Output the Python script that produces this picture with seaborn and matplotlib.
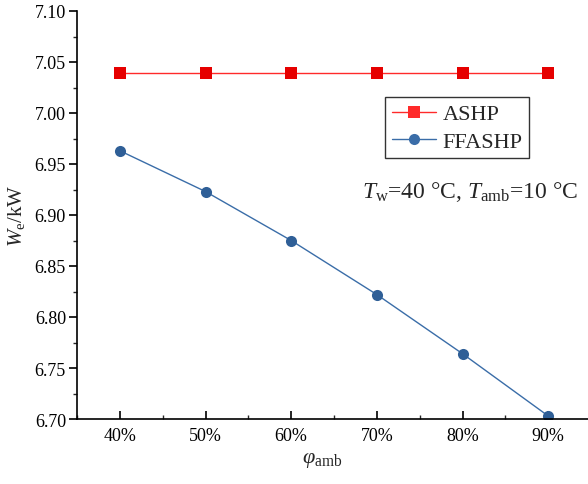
import matplotlib
matplotlib.use("Agg")
import matplotlib.pyplot as plt
import seaborn as sns
import pandas as pd
from matplotlib.ticker import MultipleLocator, FuncFormatter, AutoMinorLocator

phi = [0.4, 0.5, 0.6, 0.7, 0.8, 0.9]
ashp = [7.039, 7.039, 7.039, 7.039, 7.039, 7.039]
ffashp = [6.963, 6.923, 6.875, 6.822, 6.764, 6.703]
series_names = ["ASHP", "FFASHP"]

sns.set_theme(style="white")
plt.rcParams["font.family"] = ["Liberation Serif", "DejaVu Serif"]
plt.rcParams["mathtext.fontset"] = "custom"
plt.rcParams["mathtext.rm"] = "Liberation Serif"
plt.rcParams["mathtext.it"] = "Liberation Serif:italic"

df = pd.DataFrame({
    "phi": phi * 2,
    "We": ashp + ffashp,
    "series": [series_names[0]] * len(phi) + [series_names[1]] * len(phi),
})

fig = plt.figure(figsize=(5.88, 4.85), dpi=100)
ax = fig.add_axes([77 / 588, (485 - 420) / 485, 514 / 588, 408 / 485])

palette = {"ASHP": "#FF2A2A", "FFASHP": "#3A6DA8"}
sns.lineplot(data=df, x="phi", y="We", hue="series", style="series",
             markers={"ASHP": "s", "FFASHP": "o"}, dashes=False,
             palette=palette, linewidth=1.0, markersize=8, ax=ax,
             markeredgewidth=0)
for line, mc in zip(ax.get_lines()[:2], ["#E60000", "#2F5F97"]):
    line.set_markerfacecolor(mc)
    line.set_markeredgecolor(mc)

ax.set_xlim(0.35, 0.95)
ax.set_ylim(6.70, 7.10)
ax.xaxis.set_major_locator(MultipleLocator(0.1))
ax.xaxis.set_minor_locator(AutoMinorLocator(2))
ax.xaxis.set_major_formatter(FuncFormatter(lambda v, p: f"{v*100:.0f}%"))
ax.yaxis.set_major_locator(MultipleLocator(0.05))
ax.yaxis.set_minor_locator(AutoMinorLocator(2))
ax.yaxis.set_major_formatter(FuncFormatter(lambda v, p: f"{v:.2f}"))

for s in ["top", "right"]:
    ax.spines[s].set_visible(False)
for s in ["left", "bottom"]:
    ax.spines[s].set_color("black")
    ax.spines[s].set_linewidth(1.2)

ax.tick_params(axis="x", which="major", direction="in", length=6, width=1.2,
               labelsize=13, pad=6, bottom=True, colors="black")
ax.tick_params(axis="x", which="minor", direction="in", length=3, width=1.0, bottom=True)
ax.tick_params(axis="y", which="major", direction="out", length=6, width=1.2,
               labelsize=13, pad=2, left=True, colors="black")
ax.tick_params(axis="y", which="minor", direction="out", length=3, width=1.0, left=True)

ax.set_xlabel(r"$\varphi_{\mathrm{amb}}$", fontsize=16)
ax.xaxis.set_label_coords(0.477, -0.077)
ax.set_ylabel(r"$W_{\mathrm{e}}$/kW", fontsize=15)
ax.yaxis.set_label_coords(-0.097, 0.5)

leg = ax.legend(loc="upper left", bbox_to_anchor=(0.599, 0.789), fontsize=16,
                frameon=True, fancybox=False, edgecolor="black",
                borderpad=0.3, handlelength=2.0, labelspacing=0.3,
                handletextpad=0.3, borderaxespad=0)
leg.get_frame().set_linewidth(1.0)

ax.text(0.5545, 0.559, r"$T_{\mathrm{w}}$=40 °C, $T_{\mathrm{amb}}$=10 °C",
        transform=ax.transAxes, fontsize=17, va="center", ha="left")

fig.savefig("out.png", dpi=100)
